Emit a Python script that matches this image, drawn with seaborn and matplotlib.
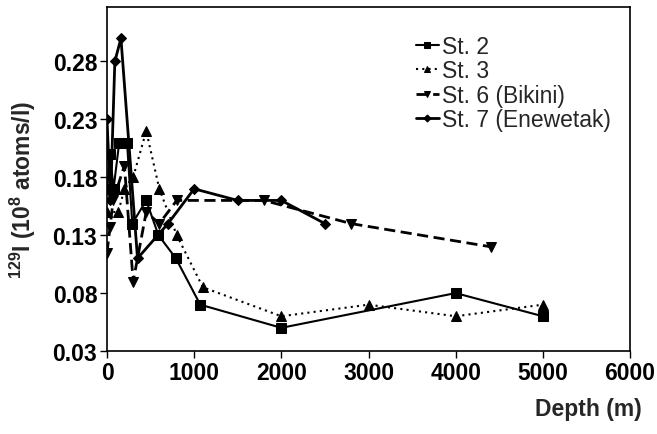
import matplotlib
matplotlib.use("Agg")
import matplotlib.pyplot as plt
import seaborn as sns
import pandas as pd

# Depth profiles of 129I at four stations
st2_depth = [0, 35, 75, 140, 230, 290, 450, 590, 790, 1070, 2000, 4000, 5000]
st2_val = [0.17, 0.20, 0.17, 0.21, 0.21, 0.14, 0.16, 0.13, 0.11, 0.07, 0.05, 0.08, 0.06]

st3_depth = [0, 130, 200, 300, 450, 600, 800, 1100, 2000, 3000, 4000, 5000]
st3_val = [0.15, 0.15, 0.17, 0.18, 0.22, 0.17, 0.13, 0.085, 0.06, 0.07, 0.06, 0.07]

st6_depth = [0, 35, 70, 200, 300, 450, 600, 800, 1800, 2800, 4400]
st6_val = [0.115, 0.137, 0.16, 0.19, 0.09, 0.15, 0.14, 0.16, 0.16, 0.14, 0.12]

st7_depth = [0, 40, 90, 160, 350, 700, 1000, 1500, 2000, 2500]
st7_val = [0.23, 0.16, 0.28, 0.30, 0.11, 0.14, 0.17, 0.16, 0.16, 0.14]

series_names = ["St. 2", "St. 3", "St. 6 (Bikini)", "St. 7 (Enewetak)"]
y_ticks = [0.03, 0.08, 0.13, 0.18, 0.23, 0.28]
x_ticks = [0, 1000, 2000, 3000, 4000, 5000, 6000]

sns.set_style("ticks")
plt.rcParams["font.family"] = ["Liberation Sans", "DejaVu Sans"]
plt.rcParams["mathtext.fontset"] = "custom"
plt.rcParams["mathtext.bf"] = "Liberation Sans:bold"
plt.rcParams["mathtext.rm"] = "Liberation Sans:bold"
plt.rcParams["mathtext.default"] = "bf"

fig = plt.figure(figsize=(6.57, 4.35), dpi=100)
ax = fig.add_axes([107 / 657, 1 - 352 / 435, 523 / 657, 344 / 435])

styles = [
    dict(marker="s", ls="-", lw=1.5, ms=7),
    dict(marker="^", ls=(0, (1, 2)), lw=1.5, ms=7),
    dict(marker="v", ls=(0, (4, 2)), lw=2.0, ms=7),
    dict(marker="D", ls="-", lw=2.0, ms=5.5),
]
data = [(st2_depth, st2_val), (st3_depth, st3_val),
        (st6_depth, st6_val), (st7_depth, st7_val)]

for name, (d, v), st in zip(series_names, data, styles):
    df = pd.DataFrame({"depth": d, "iodine": v})
    sns.lineplot(data=df, x="depth", y="iodine", ax=ax, color="black",
                 estimator=None, sort=False, label=name,
                 marker=st["marker"], linestyle=st["ls"], linewidth=st["lw"],
                 markersize=st["ms"], markeredgecolor="black",
                 markerfacecolor="black")

ax.set_xlim(0, 6000)
ax.set_ylim(0.03, 0.327)
ax.set_xticks(x_ticks)
ax.set_yticks(y_ticks)
ax.set_yticklabels([f"{t:.2f}" for t in y_ticks])
ax.tick_params(axis="both", labelsize=16.5, length=5, width=1, pad=2,
               direction="out", colors="black")
for lbl in ax.get_xticklabels() + ax.get_yticklabels():
    lbl.set_fontweight("bold")
for sp in ax.spines.values():
    sp.set_visible(True)
    sp.set_linewidth(1.2)
    sp.set_color("black")

ax.set_xlabel("Depth (m)", fontsize=16.5, fontweight="bold", ha="right")
ax.xaxis.set_label_coords((642 - 107) / 523, (352 - 398) / 344)
ax.set_ylabel(r"$^{129}$I (10$^{8}$ atoms/l)", fontsize=16.5,
              fontweight="bold")
ax.yaxis.set_label_coords(-(107 - 38) / 523, 0.47)

leg = ax.legend(loc="upper left", bbox_to_anchor=((416 - 107) / 523, 1 - (36 - 8) / 344),
                frameon=False, fontsize=16.5, handlelength=1.0,
                handletextpad=0.15, labelspacing=0.06, borderpad=0,
                markerscale=0.65, borderaxespad=0)

fig.savefig("out.png", dpi=100)
